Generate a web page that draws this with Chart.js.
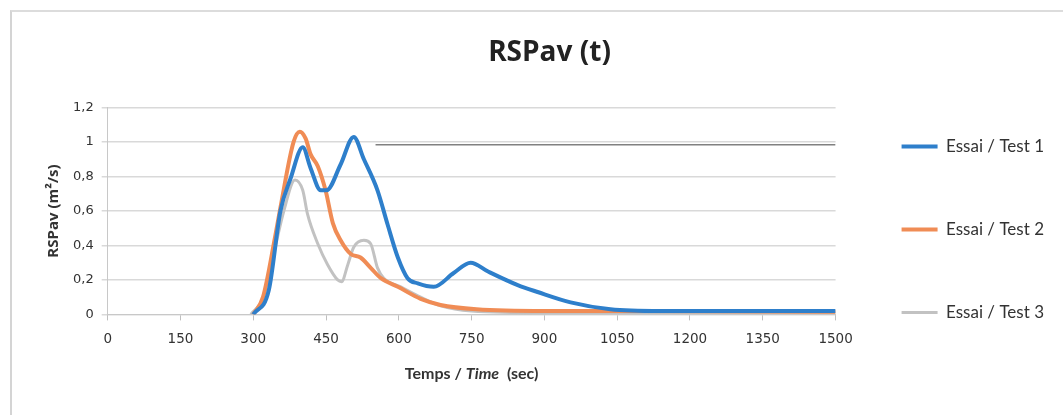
<!DOCTYPE html>
<html>
<head>
<meta charset="utf-8">
<script src="https://cdn.jsdelivr.net/npm/chart.js@4/dist/chart.umd.min.js"></script>
<style>
  html, body { margin: 0; padding: 0; background: #fff; }
  #wrap { position: relative; width: 1063px; height: 415px; }
  #frame { position: absolute; left: 10px; top: 10px; width: 1100px; height: 500px;
           border-left: 2px solid #d4d4d4; border-top: 2px solid #dcdcdc; }
  canvas { position: absolute; left: 0; top: 0; }
</style>
</head>
<body>
<div id="wrap">
  <div id="frame"></div>
  <canvas id="rspChart" width="1063" height="415"></canvas>
</div>
<script>
// Tick labels
const xTicks = [0, 150, 300, 450, 600, 750, 900, 1050, 1200, 1350, 1500];
const yTicks = [0, 0.2, 0.4, 0.6, 0.8, 1, 1.2];

// Essai / Test 1
const time1 = [300, 332, 356, 377, 402, 418, 439, 451, 480, 507, 528, 556, 577, 598, 618, 639, 672, 713, 748, 783, 845, 886, 954, 1036, 1139, 1300, 1500];
const rsp1  = [0, 0.14, 0.6, 0.79, 0.97, 0.85, 0.72, 0.72, 0.87, 1.03, 0.9, 0.72, 0.52, 0.33, 0.21, 0.18, 0.16, 0.24, 0.30, 0.25, 0.17, 0.13, 0.07, 0.03, 0.02, 0.02, 0.02];

// Essai / Test 2
const time2 = [300, 320, 345, 356, 383, 396, 408, 418, 433, 449, 464, 480, 501, 521, 542, 563, 598, 645, 686, 760, 900, 1100, 1500];
const rsp2  = [0, 0.1, 0.45, 0.62, 1.0, 1.06, 1.02, 0.93, 0.86, 0.72, 0.53, 0.43, 0.35, 0.33, 0.27, 0.21, 0.16, 0.09, 0.055, 0.03, 0.02, 0.02, 0.015];

// Essai / Test 3
const time3 = [295, 321, 342, 363, 386, 402, 412, 433, 453, 474, 482, 495, 507, 528, 542, 556, 569, 604, 645, 686, 750, 900, 1100, 1500];
const rsp3  = [0, 0.1, 0.35, 0.6, 0.78, 0.72, 0.58, 0.41, 0.29, 0.2, 0.19, 0.29, 0.39, 0.43, 0.41, 0.27, 0.21, 0.16, 0.1, 0.05, 0.02, 0.01, 0.01, 0.01];

// darker stretch of the 1,0 gridline seen on the scan
const scanTime = [552, 1500];
const scanVal  = [0.985, 0.985];

function toPoints(xs, ys) {
    return xs.map((x, i) => ({ x: x, y: ys[i] }));
}

function frNumber(v) {
    return Number(v.toFixed(1)).toString().replace('.', ',');
}

// x axis title with italic "Time"
const xTitlePlugin = {
    id: 'xTitle',
    afterDraw(chart) {
        const ctx = chart.ctx;
        const area = chart.chartArea;
        const parts = [
            { t: 'Temps / ', f: 'bold 16px Lato' },
            { t: 'Time', f: 'italic bold 16px Lato' },
            { t: '  (sec)', f: 'bold 16px Lato' }
        ];
        ctx.save();
        let total = 0;
        parts.forEach(p => { ctx.font = p.f; p.w = ctx.measureText(p.t).width; total += p.w; });
        let x = (area.left + area.right) / 2 - total / 2;
        const y = chart.scales.x.bottom - 23;
        ctx.fillStyle = '#333';
        ctx.textBaseline = 'middle';
        parts.forEach(p => { ctx.font = p.f; ctx.fillText(p.t, x, y); x += p.w; });
        ctx.restore();
    }
};

// push the legend column down a little, like the original
const legendShift = {
    id: 'legendShift',
    afterUpdate(chart) {
        chart.legend.top += 16;
        chart.legend.bottom += 16;
    }
};

const ctx = document.getElementById('rspChart').getContext('2d');
new Chart(ctx, {
    type: 'line',
    data: {
        datasets: [
            {
                label: 'Essai / Test 1',
                data: toPoints(time1, rsp1),
                borderColor: '#2e7fcb',
                backgroundColor: '#2e7fcb',
                borderWidth: 4,
                pointRadius: 0,
                cubicInterpolationMode: 'monotone'
            },
            {
                label: 'Essai / Test 2',
                data: toPoints(time2, rsp2),
                borderColor: '#f08c55',
                backgroundColor: '#f08c55',
                borderWidth: 4,
                pointRadius: 0,
                cubicInterpolationMode: 'monotone'
            },
            {
                label: 'Essai / Test 3',
                data: toPoints(time3, rsp3),
                borderColor: '#c2c2c2',
                backgroundColor: '#c2c2c2',
                borderWidth: 3,
                pointRadius: 0,
                cubicInterpolationMode: 'monotone'
            },
            {
                label: 'scan',
                data: toPoints(scanTime, scanVal),
                borderColor: '#808080',
                borderWidth: 1.5,
                pointRadius: 0
            }
        ]
    },
    options: {
        responsive: false,
        animation: false,
        layout: { padding: { left: 45, right: 9, top: 30, bottom: 18 } },
        plugins: {
            title: {
                display: true,
                text: 'RSPav (t)',
                color: '#222',
                font: { family: 'Open Sans', size: 28, weight: 'bold' },
                padding: { top: 6, bottom: 38 }
            },
            legend: {
                position: 'right',
                labels: {
                    filter: item => item.text !== 'scan',
                    usePointStyle: true,
                    pointStyle: 'line',
                    pointStyleWidth: 36,
                    padding: 66,
                    color: '#333',
                    font: { family: 'Lato', size: 17 }
                }
            },
            tooltip: { enabled: false }
        },
        scales: {
            x: {
                type: 'linear',
                min: 0,
                max: 1500,
                afterBuildTicks: axis => { axis.ticks = xTicks.map(v => ({ value: v })); },
                grid: { display: true, drawOnChartArea: false, drawTicks: true, tickLength: 6, color: '#bfbfbf' },
                border: { color: '#c8c8c8' },
                ticks: { color: '#333', padding: 11, font: { family: 'DejaVu Sans', size: 13.5 }, callback: v => String(v) },
                title: { display: true, text: ' ', padding: { top: 4, bottom: 14 }, font: { size: 17 } }
            },
            y: {
                min: 0,
                max: 1.2,
                afterBuildTicks: axis => { axis.ticks = yTicks.map(v => ({ value: v })); },
                grid: { color: '#d9d9d9', tickLength: 6, lineWidth: 1.5 },
                border: { color: '#c8c8c8' },
                ticks: { color: '#333', padding: 8, font: { family: 'DejaVu Sans', size: 13 }, callback: v => frNumber(v) },
                title: { display: true, text: 'RSPav (m²/s)', color: '#333', padding: { top: 0, bottom: 2 },
                         font: { family: 'Open Sans', size: 15, weight: 'bold' } }
            }
        }
    },
    plugins: [xTitlePlugin, legendShift]
});
</script>
</body>
</html>
